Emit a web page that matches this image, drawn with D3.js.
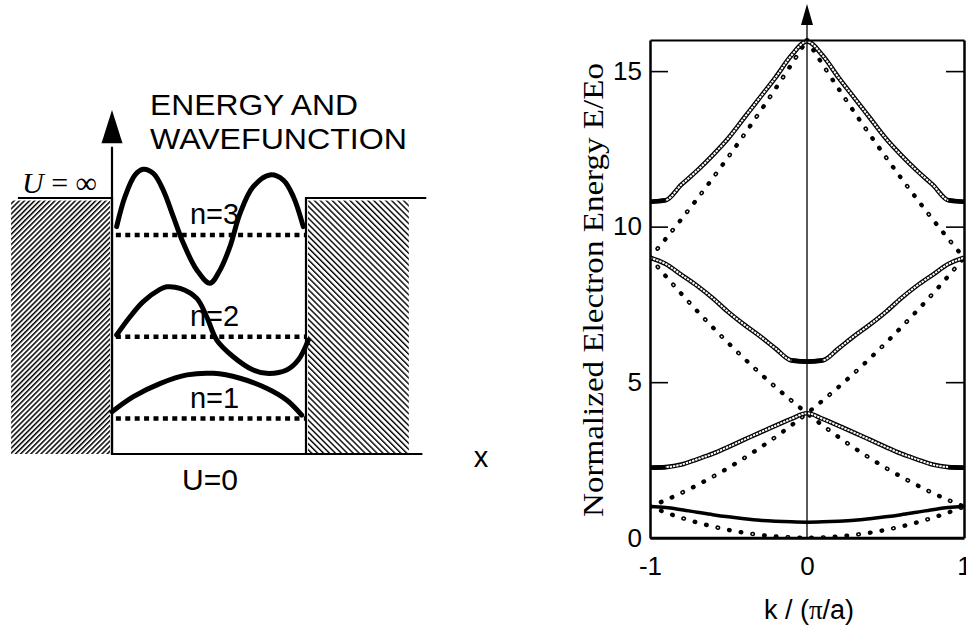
<!DOCTYPE html>
<html>
<head>
<meta charset="utf-8">
<script src="https://cdn.jsdelivr.net/npm/d3@7"></script>
<style>
  body { margin: 0; background: #fff; }
  svg { display: block; font-family: "Liberation Sans", Arial, sans-serif; }
  text { fill: #000; }
</style>
</head>
<body>
<svg id="chart" width="966" height="629"></svg>
<script>
// ---- left panel: infinite square well ----
const levels = [1.39, 4.58, 8.55];            // n=1,2,3 energy levels
const levelNames = ["n=1", "n=2", "n=3"];
const waveX1 = [0.0, 0.11, 0.25, 0.387, 0.522, 0.66, 0.797, 0.9, 0.978];
const wavePsi1 = [0.26, 0.85, 1.37, 1.70, 1.76, 1.57, 1.18, 0.72, 0.13];
const waveX2 = [0.024, 0.093, 0.161, 0.247, 0.282, 0.351, 0.437, 0.488, 0.540, 0.625, 0.728, 0.797, 0.900, 0.960, 1.012];
const wavePsi2 = [0.07, 0.78, 1.37, 1.85, 1.95, 1.89, 1.50, 0.78, -0.13, -0.78, -1.30, -1.43, -1.30, -0.91, -0.13];
const waveX3 = [0.024, 0.067, 0.119, 0.161, 0.213, 0.264, 0.316, 0.368, 0.437, 0.505, 0.557, 0.608, 0.660, 0.728, 0.814, 0.883, 0.935, 0.986];
const wavePsi3 = [0.33, 1.50, 2.35, 2.57, 2.41, 1.76, 0.72, -0.32, -1.36, -1.88, -1.36, -0.45, 0.85, 1.89, 2.35, 2.15, 1.50, 0.33];

// ---- right panel: band structure ----
const kGrid = [-1, -0.9, -0.8, -0.7, -0.6, -0.5, -0.4, -0.3, -0.2, -0.1, 0, 0.1, 0.2, 0.3, 0.4, 0.5, 0.6, 0.7, 0.8, 0.9, 1];
const kHalfL = [-1, -0.9, -0.8, -0.7, -0.6, -0.5, -0.4, -0.3, -0.2, -0.1, 0];
const kHalfR = [0, 0.1, 0.2, 0.3, 0.4, 0.5, 0.6, 0.7, 0.8, 0.9, 1];
const band1 = [1.00, 0.97, 0.90, 0.82, 0.74, 0.67, 0.61, 0.56, 0.53, 0.51, 0.50, 0.51, 0.53, 0.56, 0.61, 0.67, 0.74, 0.82, 0.90, 0.97, 1.00];
const band2 = [2.25, 2.27, 2.35, 2.52, 2.70, 2.92, 3.15, 3.38, 3.60, 3.82, 4.00, 3.82, 3.60, 3.38, 3.15, 2.92, 2.70, 2.52, 2.35, 2.27, 2.25];
const band3 = [9.00, 8.80, 8.45, 8.10, 7.70, 7.25, 6.85, 6.48, 6.08, 5.70, 5.66, 5.70, 6.08, 6.48, 6.85, 7.25, 7.70, 8.10, 8.45, 8.80, 9.00];
const band4 = [10.80, 10.85, 11.35, 11.80, 12.30, 12.85, 13.50, 14.15, 14.80, 15.50, 15.95, 15.50, 14.80, 14.15, 13.50, 12.85, 12.30, 11.80, 11.35, 10.85, 10.80];
// free electron parabolas (dotted)
const freeA = [1.00, 1.21, 1.44, 1.69, 1.96, 2.25, 2.56, 2.89, 3.24, 3.61, 4.00, 4.41, 4.84, 5.29, 5.76, 6.25, 6.76, 7.29, 7.84, 8.41, 9.00];
const freeB = [9.00, 8.41, 7.84, 7.29, 6.76, 6.25, 5.76, 5.29, 4.84, 4.41, 4.00, 3.61, 3.24, 2.89, 2.56, 2.25, 1.96, 1.69, 1.44, 1.21, 1.00];
const freeC = [1.00, 0.81, 0.64, 0.49, 0.36, 0.25, 0.16, 0.09, 0.04, 0.01, 0.00, 0.01, 0.04, 0.09, 0.16, 0.25, 0.36, 0.49, 0.64, 0.81, 1.00];
const freeD = [9.00, 9.61, 10.24, 10.89, 11.56, 12.25, 12.96, 13.69, 14.44, 15.21, 16.00];
const freeE = [16.00, 15.21, 14.44, 13.69, 12.96, 12.25, 11.56, 10.89, 10.24, 9.61, 9.00];
const yTicks = [0, 5, 10, 15];
const xTicks = [-1, 0, 1];

const svg = d3.select("#chart");
const defs = svg.append("defs");

// hatch patterns for the well walls
defs.append("pattern").attr("id", "hatchL").attr("patternUnits", "userSpaceOnUse")
  .attr("width", 3.6).attr("height", 3.6).attr("patternTransform", "rotate(45)")
  .append("rect").attr("width", 1.5).attr("height", 3.6).attr("fill", "#000");
defs.append("pattern").attr("id", "hatchR").attr("patternUnits", "userSpaceOnUse")
  .attr("width", 4.2).attr("height", 4.2).attr("patternTransform", "rotate(-45)")
  .append("rect").attr("width", 1.4).attr("height", 4.2).attr("fill", "#000");

// ================= LEFT PANEL =================
const xs = d3.scaleLinear().domain([0, 1]).range([112, 306]);
const es = d3.scaleLinear().domain([0, 10]).range([454, 198]);
const L = svg.append("g");

// walls
L.append("rect").attr("x", xs(-0.52)).attr("y", es(9.9)).attr("width", xs(0) - 2 - xs(-0.52))
  .attr("height", es(0) - es(9.9)).attr("fill", "url(#hatchL)");
L.append("rect").attr("x", xs(1) + 2).attr("y", es(9.9)).attr("width", xs(1.53) - xs(1) - 2)
  .attr("height", es(0) - es(9.9)).attr("fill", "url(#hatchR)");
L.append("path")
  .attr("d", `M${xs(-0.485)},${es(10)}H${xs(0)}V${es(0)}H${xs(1.6)}M${xs(1)},${es(0)}V${es(10)}H${xs(1.62)}`)
  .attr("fill", "none").attr("stroke", "#000").attr("stroke-width", 2.2);

// energy axis with arrow
L.append("line").attr("x1", xs(0)).attr("x2", xs(0)).attr("y1", es(0)).attr("y2", es(12))
  .attr("stroke", "#000").attr("stroke-width", 2.2);
L.append("path").attr("d", `M${xs(0)},${es(13.44)}L${xs(0) - 10.5},${es(12.14)}L${xs(0) + 10.5},${es(12.14)}Z`)
  .attr("fill", "#000");

// energy levels (dashed)
L.selectAll(".level").data(levels).join("line").attr("class", "level")
  .attr("x1", xs(0.02)).attr("x2", d => xs(1))
  .attr("y1", d => es(d)).attr("y2", d => es(d))
  .attr("stroke", "#000").attr("stroke-width", 4.5).attr("stroke-dasharray", "5,4.4");

// wavefunctions
const waves = [[waveX1, wavePsi1], [waveX2, wavePsi2], [waveX3, wavePsi3]];
const waveLine = d3.line().x(d => xs(d[0])).y(d => es(d[1])).curve(d3.curveCatmullRom.alpha(0.5));
waves.forEach(([wx, wp], i) => {
  const pts = wx.map((x, j) => [x, levels[i] + wp[j]]);
  L.append("path").attr("d", waveLine(pts)).attr("fill", "none")
    .attr("stroke", "#000").attr("stroke-width", 5).attr("stroke-linecap", "round");
});

// level labels
L.selectAll(".nlab").data(levels).join("text").attr("class", "nlab")
  .attr("x", xs(0.402)).attr("y", d => es(d + 0.42))
  .attr("font-size", 29).text((d, i) => levelNames[i]);

L.append("text").attr("x", 150).attr("y", 115).attr("font-size", 30)
  .attr("textLength", 208).attr("lengthAdjust", "spacingAndGlyphs").text("ENERGY AND");
L.append("text").attr("x", 150).attr("y", 149).attr("font-size", 30)
  .attr("textLength", 257).attr("lengthAdjust", "spacingAndGlyphs").text("WAVEFUNCTION");

const uinf = L.append("text").attr("x", 22).attr("y", 193)
  .attr("font-family", "'Liberation Serif', 'DejaVu Serif', serif").attr("font-size", 30);
uinf.append("tspan").attr("font-style", "italic").text("U");
uinf.append("tspan").text(" = ∞");

L.append("text").attr("x", xs(0.505)).attr("y", 490).attr("text-anchor", "middle")
  .attr("font-size", 30).text("U=0");
L.append("text").attr("x", 481).attr("y", 467).attr("text-anchor", "middle")
  .attr("font-size", 29).text("x");

// ================= RIGHT PANEL =================
const kx = d3.scaleLinear().domain([-1, 1]).range([650, 964]);
const ey = d3.scaleLinear().domain([0, 16]).range([537.7, 40]);
const R = svg.append("g");

defs.append("clipPath").attr("id", "plotClip").append("rect")
  .attr("x", kx(-1)).attr("y", ey(16) - 3).attr("width", kx(1) - kx(-1)).attr("height", ey(0) - ey(16) + 3);

const plot = R.append("g").attr("clip-path", "url(#plotClip)");
const line = d3.line().x(d => kx(d[0])).y(d => ey(d[1])).curve(d3.curveMonotoneX);

// free electron parabolas
const freeCurves = [[kGrid, freeA], [kGrid, freeB], [kGrid, freeC], [kHalfL, freeD], [kHalfR, freeE]];
freeCurves.forEach(([ks, es2], i) => {
  const pts = ks.map((k, j) => [k, es2[j]]);
  plot.append("path").attr("d", line(pts)).attr("fill", "none")
    .attr("stroke", "#000").attr("stroke-width", 4.4).attr("stroke-linecap", "round")
    .attr("stroke-dasharray", "0.6 11.2");
  plot.append("path").attr("d", line(pts)).attr("fill", "none")
    .attr("stroke", "#fff").attr("stroke-width", 1.4).attr("stroke-linecap", "round")
    .attr("stroke-dasharray", "0.4 " + (i % 2 ? 23.2 : 35.0)).attr("stroke-dashoffset", i % 2 ? 11.7 : -0.1);
});

// bands
const bands = [band1, band2, band3, band4];
bands.forEach((b, bi) => {
  const pts = kGrid.map((k, j) => [k, b[j]]);
  if (bi === 0) {
    plot.append("path").attr("d", line(pts)).attr("fill", "none")
      .attr("stroke", "#000").attr("stroke-width", 3.5);
    return;
  }
  plot.append("path").attr("d", line(pts)).attr("fill", "none")
    .attr("stroke", "#000").attr("stroke-width", 4.6);
  plot.append("path").attr("d", line(pts)).attr("fill", "none")
    .attr("stroke", "#fff").attr("stroke-width", 2).attr("stroke-dasharray", "2.4,0.9");
  // flat stretches render solid (dense markers overlap)
  for (let j = 0; j < pts.length - 1; j++) {
    const slope = Math.abs((ey(pts[j + 1][1]) - ey(pts[j][1])) / (kx(pts[j + 1][0]) - kx(pts[j][0])));
    if (slope < 0.12) {
      plot.append("path").attr("d", d3.line().x(d => kx(d[0])).y(d => ey(d[1]))([pts[j], pts[j + 1]]))
        .attr("stroke", "#000").attr("stroke-width", 4.2).attr("fill", "none");
    }
  }
});

// axes / frame
const yLeft = d3.axisLeft(ey).tickValues(yTicks).tickSize(-18).tickSizeOuter(0).tickPadding(8);
const gL = R.append("g").attr("transform", `translate(${kx(-1)},0)`).call(yLeft);
const yRight = d3.axisRight(ey).tickValues(yTicks).tickSize(-18).tickSizeOuter(0).tickFormat("");
const gR = R.append("g").attr("transform", `translate(${kx(1)},0)`).call(yRight);
const xBot = d3.axisBottom(kx).tickValues(xTicks).tickSize(0).tickSizeOuter(0).tickPadding(19)
  .tickFormat(d3.format("d"));
const gB = R.append("g").attr("transform", `translate(0,${ey(0)})`).call(xBot);
const xTop = d3.axisTop(kx).tickValues([]).tickSizeOuter(0);
const gT = R.append("g").attr("transform", `translate(0,${ey(16)})`).call(xTop);

[gL, gR].forEach(g => {
  g.select(".domain").attr("stroke-width", 2.5);
  g.selectAll(".tick line").attr("stroke-width", 1.6);
});
gB.select(".domain").attr("stroke-width", 3);
gT.select(".domain").attr("stroke-width", 2);
[gL, gB].forEach(g => g.selectAll("text")
  .attr("font-family", "'Liberation Sans', Arial, sans-serif").attr("font-size", 26).attr("fill", "#000"));
gB.selectAll("text").text(d => d < 0 ? "-" + Math.abs(d) : d);

// k = 0 vertical line with arrow
R.append("line").attr("x1", kx(0)).attr("x2", kx(0)).attr("y1", ey(0)).attr("y2", 22)
  .attr("stroke", "#000").attr("stroke-width", 1.3);
R.append("path").attr("d", `M${kx(0)},4L${kx(0) - 6},25L${kx(0) + 6},25Z`).attr("fill", "#000");

// axis titles
R.append("text").attr("transform", "translate(603,290) rotate(-90)")
  .attr("text-anchor", "middle").attr("font-family", "'Liberation Serif', 'Times New Roman', serif")
  .attr("fill", "#000").attr("font-size", 30).attr("textLength", 454).attr("lengthAdjust", "spacingAndGlyphs")
  .text("Normalized Electron Energy E/Eo");

const xl = R.append("text").attr("x", kx(0) + 2).attr("y", 619).attr("text-anchor", "middle").attr("font-size", 27);
xl.append("tspan").text("k / (");
xl.append("tspan").attr("font-family", "'Liberation Serif', 'Times New Roman', serif").text("π");
xl.append("tspan").text("/a)");
</script>
</body>
</html>
